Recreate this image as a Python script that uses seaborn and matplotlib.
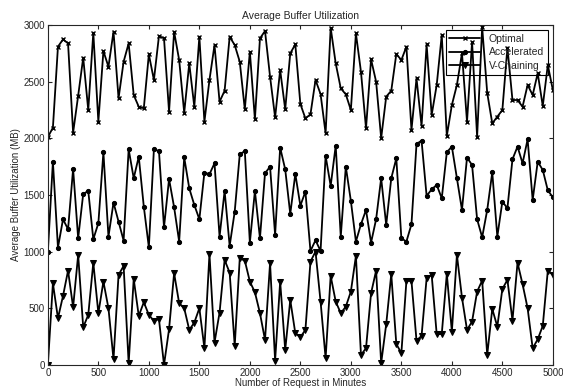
import numpy as np
import pandas as pd
import matplotlib
matplotlib.use("Agg")
import matplotlib.pyplot as plt
import seaborn as sns

# ---------- data ----------
requests = list(range(0, 5001, 50))

optimal = [
    2010, 2093, 2808, 2872, 2837, 2049, 2375, 2711, 2249, 2931,
    2146, 2769, 2631, 2940, 2352, 2675, 2837, 2381, 2278, 2264,
    2740, 2514, 2902, 2881, 2234, 2940, 2690, 2225, 2660, 2278,
    2896, 2146, 2514, 2822, 2322, 2419, 2896, 2822, 2675, 2255,
    2763, 2167, 2881, 2946, 2543, 2184, 2602, 2255, 2749, 2828,
    2302, 2175, 2211, 2514, 2390, 2044, 2975, 2660, 2440, 2387,
    2249, 2925, 2587, 2087, 2696, 2499, 2000, 2367, 2419, 2743,
    2690, 2808, 2073, 2528, 2108, 2828, 2205, 2470, 2911, 2020,
    2293, 2470, 2750, 2146, 2850, 2013, 2980, 2400, 2131, 2190,
    2249, 2800, 2337, 2337, 2278, 2470, 2381, 2573, 2284, 2646,
    2425,
]

accelerated = [
    1000, 1793, 1035, 1285, 1197, 1729, 1117, 1508, 1535, 1109,
    1250, 1876, 1132, 1432, 1264, 1097, 1902, 1647, 1837, 1396,
    1038, 1902, 1887, 1214, 1640, 1391, 1088, 1831, 1558, 1411,
    1285, 1697, 1682, 1779, 1132, 1535, 1050, 1352, 1858, 1887,
    1079, 1535, 1117, 1691, 1749, 1147, 1917, 1725, 1332, 1685,
    1405, 1529, 1005, 1100, 1005, 1844, 1579, 1935, 1132, 1749,
    1447, 1088, 1241, 1367, 1079, 1285, 1647, 1235, 1647, 1822,
    1117, 1088, 1241, 1949, 1979, 1491, 1549, 1588, 1470, 1876,
    1926, 1647, 1367, 1829, 1764, 1285, 1126, 1367, 1699, 1132,
    1441, 1382, 1814, 1926, 1779, 1990, 1455, 1793, 1720, 1540,
    1479,
]

v_chaining = [
    0, 720, 412, 608, 832, 509, 970, 332, 441, 902,
    456, 735, 500, 50, 794, 873, 15, 758, 432, 553,
    441, 388, 403, 0, 315, 809, 544, 500, 309, 373,
    500, 147, 979, 197, 461, 926, 814, 168, 941, 920,
    735, 641, 456, 220, 897, 38, 735, 132, 573, 279,
    244, 309, 911, 1000, 559, 59, 785, 559, 456, 514,
    647, 961, 88, 147, 632, 832, 15, 359, 800, 185,
    103, 741, 741, 214, 256, 764, 794, 270, 273, 803,
    294, 970, 594, 309, 382, 647, 744, 88, 494, 338,
    670, 750, 391, 902, 712, 500, 147, 226, 344, 832,
    794,
]

xticks = list(range(0, 5001, 500))
yticks = list(range(0, 3001, 500))

# ---------- plot ----------
sns.set_style("ticks")
plt.rcParams["font.family"] = ["Liberation Sans", "DejaVu Sans"]
plt.rcParams["xtick.direction"] = "in"
plt.rcParams["ytick.direction"] = "in"

fig, ax = plt.subplots(figsize=(5.63, 3.89), dpi=100)
fig.subplots_adjust(left=0.085, right=0.982, top=0.936, bottom=0.062)

sns.lineplot(x=requests, y=optimal, ax=ax, color="black", lw=1.3,
             marker="x", markersize=3.5, markeredgewidth=1.0,
             markeredgecolor="black", label="Optimal")
sns.lineplot(x=requests, y=accelerated, ax=ax, color="black", lw=1.3,
             marker="o", markersize=3, markeredgecolor="black",
             label="Accelerated")
sns.lineplot(x=requests, y=v_chaining, ax=ax, color="black", lw=1.3,
             marker="v", markersize=4, markeredgecolor="black",
             markerfacecolor="black", label="V-Chaining")

ax.set_xlim(0, 5000)
ax.set_ylim(0, 3000)
ax.set_xticks(xticks)
ax.set_yticks(yticks)
ax.tick_params(labelsize=7, length=3, top=True, right=True,
               labeltop=False, labelright=False, pad=2)
for s in ax.spines.values():
    s.set_linewidth(0.8)
    s.set_visible(True)

ax.set_title("Average Buffer Utilization", fontsize=7.5, pad=4)
ax.set_xlabel("Number of Request in Minutes", fontsize=7, labelpad=0)
ax.set_ylabel("Average Buffer Utilization (MB)", fontsize=7, labelpad=2)

leg = ax.legend(loc="upper right", fontsize=7.5, frameon=True,
                fancybox=False, borderaxespad=0.5, handlelength=3.0,
                labelspacing=0.35, borderpad=0.35)
frame = leg.get_frame()
frame.set_facecolor("none")
frame.set_edgecolor("black")
frame.set_alpha(None)
frame.set_linewidth(0.8)

plt.savefig("out.png", dpi=100)
